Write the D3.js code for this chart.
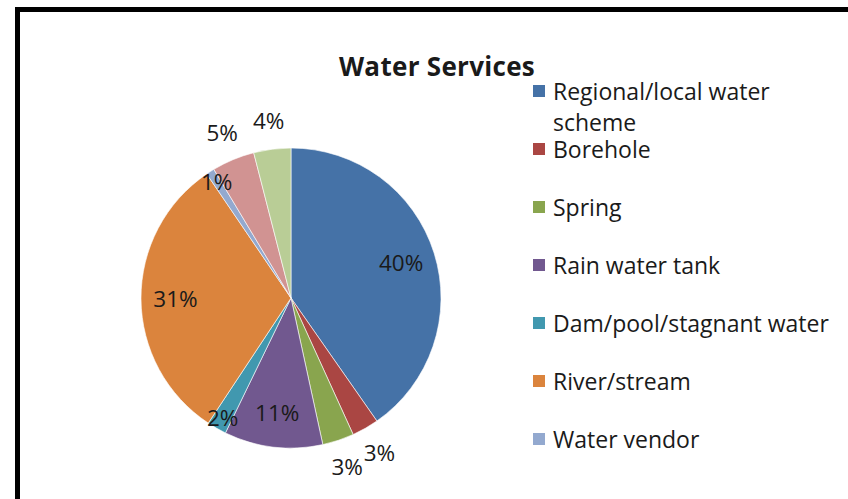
<!DOCTYPE html>
<html>
<head>
<meta charset="utf-8">
<script src="https://cdn.jsdelivr.net/npm/d3@7"></script>
<style>
  body { margin: 0; background: #fff; }
  #chart text { font-family: "Open Sans", Lato, sans-serif; fill: #1a1a1a; }
</style>
</head>
<body>
<div id="chart"></div>
<script>
// data (percent of households)
var categories = ["Regional/local water scheme", "Borehole", "Spring", "Rain water tank",
                  "Dam/pool/stagnant water", "River/stream", "Water vendor",
                  "Water carrier/tanker", "Other"];
var values = [40.3, 2.9, 3.4, 10.6, 2.1, 31.2, 0.9, 4.6, 4.0];
var colors = ["#4572A7", "#AA4643", "#89A54E", "#71588F", "#4198AF",
              "#DB843D", "#93A9CF", "#D19392", "#B9CD96"];
var chartTitle = "Water Services";

var svgWidth = 848, svgHeight = 499;
var svg = d3.select("#chart").append("svg")
    .attr("width", svgWidth)
    .attr("height", svgHeight);

// frame of the chart box (cut by the window on right and bottom)
svg.append("rect")
    .attr("x", 17.5).attr("y", 9.5)
    .attr("width", 900).attr("height", 600)
    .attr("fill", "none")
    .attr("stroke", "#000")
    .attr("stroke-width", 5);

svg.append("text")
    .attr("x", 437).attr("y", 76)
    .attr("text-anchor", "middle")
    .style("font-size", "26px")
    .style("font-weight", "bold")
    .style("letter-spacing", "0.3px")
    .text(chartTitle);

var cx = 291, cy = 298, radius = 150;
var total = d3.sum(values);
var data = categories.map(function(c, i) { return { name: c, value: values[i], color: colors[i] }; });

var pie = d3.pie().sort(null).value(function(d) { return d.value; });
var arcs = pie(data);
var arc = d3.arc().innerRadius(0).outerRadius(radius);

var g = svg.append("g").attr("transform", "translate(" + cx + "," + cy + ")");

g.selectAll("path.slice")
    .data(arcs)
    .enter().append("path")
    .attr("class", "slice")
    .attr("d", arc)
    .attr("fill", function(d) { return d.data.color; })
    .attr("stroke", "#fff")
    .attr("stroke-width", 0.6);

// label radius: big slices inside, the tiny ones near the rim, the rest outside
function labelRadius(d) {
    var p = d.data.value / total * 100;
    if (p >= 10) return radius * 0.77;
    if (p < 2.5) return radius * 0.92;
    return radius * 1.19;
}
g.selectAll("text.lbl")
    .data(arcs)
    .enter().append("text")
    .attr("class", "lbl")
    .attr("transform", function(d) {
        var a = (d.startAngle + d.endAngle) / 2;
        var r = labelRadius(d);
        return "translate(" + (r * Math.sin(a)) + "," + (-r * Math.cos(a)) + ")";
    })
    .attr("text-anchor", "middle")
    .attr("dy", "0.35em")
    .style("font-size", "22.5px")
    .text(function(d) { return Math.round(d.data.value / total * 100) + "%"; });

// legend: only the entries that fit in the box are shown (as in the original)
var rowY = d3.scaleLinear().domain([0, 1]).range([91, 149]);
var legendData = data.filter(function(d, i) { return rowY(i) + 12 < svgHeight; });
var legend = svg.append("g").attr("transform", "translate(533,0)");
var items = legend.selectAll("g.item")
    .data(legendData)
    .enter().append("g")
    .attr("class", "item")
    .attr("transform", function(d, i) { return "translate(0," + rowY(i) + ")"; });

items.append("rect")
    .attr("x", 0).attr("y", -6)
    .attr("width", 12).attr("height", 12)
    .attr("fill", function(d) { return d.color; });

items.append("text")
    .attr("x", 20).attr("y", 9)
    .style("font-size", "23px")
    .each(function(d) {
        var t = d3.select(this);
        // first entry wraps onto two lines
        var lines = d.name === categories[0] ? ["Regional/local water", "scheme"] : [d.name];
        lines.forEach(function(l, k) {
            t.append("tspan").attr("x", 20).attr("dy", k === 0 ? 0 : 31).text(l);
        });
    });
</script>
</body>
</html>
